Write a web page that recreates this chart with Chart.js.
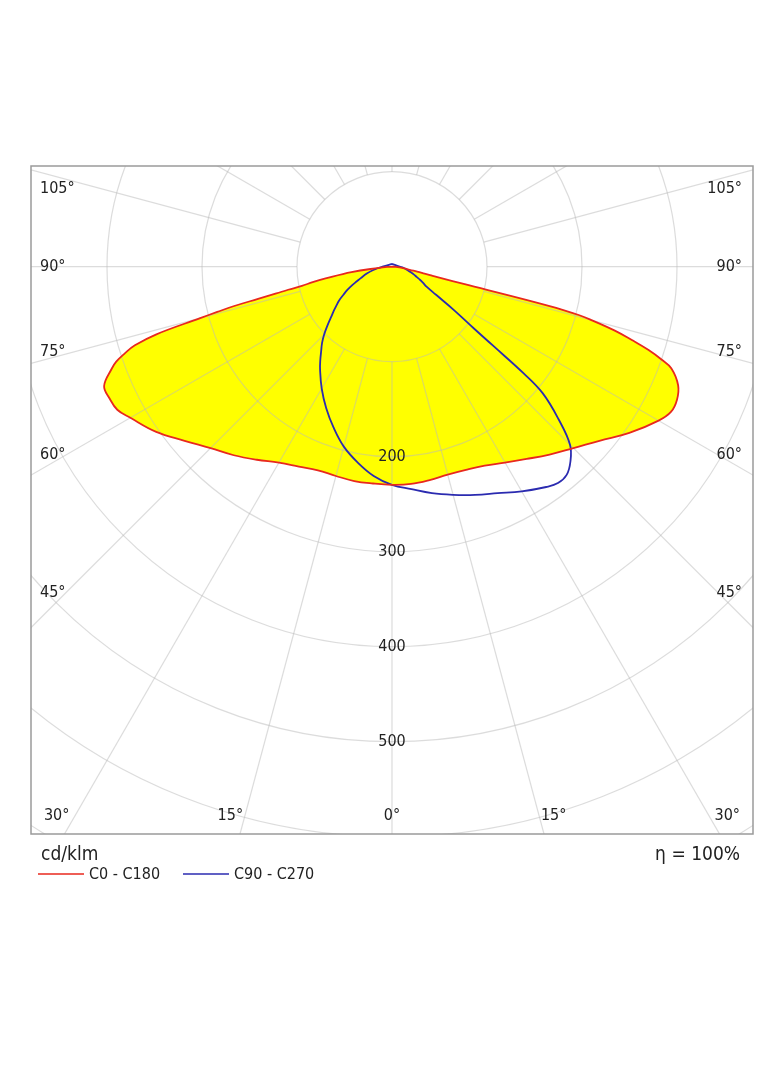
<!DOCTYPE html>
<html>
<head>
<meta charset="utf-8">
<script src="https://cdn.jsdelivr.net/npm/chart.js@4.4.0/dist/chart.umd.min.js"></script>
<style>
  html, body { margin: 0; padding: 0; background: #fff; }
  canvas { display: block; }
</style>
</head>
<body>
<canvas id="polar" width="784" height="1066"></canvas>
<script>
// gamma angles in degrees from nadir, intensities in cd/klm
const gammaRed = [0, 5, 10, 15, 20, 25, 30, 35, 40, 45, 50, 55, 60, 62.5, 65, 67.5, 70, 71, 72, 73, 74, 75, 75.5, 76, 76.5, 77, 77.5, 78, 79, 80, 82.5, 85, 87.5, 90, 180];
const c0 = [229.5, 229.5, 228, 226.5, 227.5, 231, 238, 247, 258, 270, 285, 305, 324, 331, 331, 326, 313, 300, 284, 264, 244, 218, 203, 171, 83, 48, 41, 35, 27, 19, 13, 8, 4, 0, 0];
const c180 = [229.5, 229, 229, 228, 228, 232, 238, 248, 259, 270, 285, 303, 318, 326, 328, 328, 314, 307, 296, 283, 258, 209, 190, 172, 145, 125, 112, 97, 85, 71, 43, 14, 5, 0, 0];

const gammaBlue = [0, 5, 10, 15, 20, 25, 30, 35, 37.5, 40, 42.5, 45, 47.5, 50, 51, 52, 53, 55, 57.5, 60, 62.5, 65, 67.5, 70, 75, 80, 85, 90, 180];
const c90 = [229.5, 235, 242, 248.5, 255.5, 263, 273, 283, 287, 286, 278, 265, 238, 207, 178, 135, 108, 80, 55, 42, 37, 32.5, 28, 25, 19, 15, 12, 8, 3];
const c270 = [229.5, 221, 209, 196, 180, 164, 148, 132, 124, 116, 109, 101, 92.5, 84.5, 81.5, 79, 76.5, 71.5, 66, 59, 53, 46.5, 40, 35, 27, 20, 14, 10, 3];

const seriesNames = ['C0 - C180', 'C90 - C270'];
const seriesColors = ['#e8281e', '#2b2bb0'];
const ringValues = [100, 200, 300, 400, 500, 600, 700];
const ringLabels = [200, 300, 400, 500];
const sideAngles = [105, 90, 75, 60, 45];
const bottomAngles = [0, 15, 30];
const unitLabel = 'cd/klm';
const efficiencyLabel = 'η = 100%';

const FONT = '"DejaVu Sans Condensed", "DejaVu Sans", sans-serif';

function toPoints(gammas, left, right) {
  const pts = [];
  const rad = Math.PI / 180;
  for (let i = gammas.length - 1; i >= 0; i--) {
    pts.push({ x: -left[i] * Math.sin(gammas[i] * rad), y: -left[i] * Math.cos(gammas[i] * rad) });
  }
  for (let i = 1; i < gammas.length; i++) {
    pts.push({ x: right[i] * Math.sin(gammas[i] * rad), y: -right[i] * Math.cos(gammas[i] * rad) });
  }
  return pts;
}

const polarGrid = {
  id: 'polarGrid',
  beforeDatasetsDraw(chart) {
    const { ctx, chartArea: a, scales: { x, y } } = chart;
    const cx = x.getPixelForValue(0), cy = y.getPixelForValue(0);
    const k = (x.getPixelForValue(100) - cx) / 100;
    ctx.save();
    ctx.beginPath();
    ctx.rect(a.left, a.top, a.width, a.height);
    ctx.clip();
    ctx.strokeStyle = 'rgba(185,185,185,0.5)';
    ctx.lineWidth = 1.2;
    ringValues.forEach(r => {
      ctx.beginPath();
      ctx.arc(cx, cy, r * k, 0, Math.PI * 2);
      ctx.stroke();
    });
    for (let g = 0; g < 360; g += 15) {
      const t = g * Math.PI / 180;
      const dx = Math.sin(t), dy = Math.cos(t);
      ctx.beginPath();
      ctx.moveTo(cx + dx * 100 * k, cy + dy * 100 * k);
      ctx.lineTo(cx + dx * 1000 * k, cy + dy * 1000 * k);
      ctx.stroke();
    }
    ctx.restore();
  },
  afterDraw(chart) {
    const { ctx, chartArea: a, scales: { x, y } } = chart;
    const cx = x.getPixelForValue(0), cy = y.getPixelForValue(0);
    ctx.save();
    ctx.fillStyle = '#222';
    ctx.textBaseline = 'middle';

    // ring values along the nadir axis
    ctx.font = '16px ' + FONT;
    ctx.textAlign = 'center';
    ringLabels.forEach(v => ctx.fillText(String(v), cx, y.getPixelForValue(-v)));

    // angle labels on the sides
    const sideDx = 340;
    sideAngles.forEach(g => {
      const t = (g + (g < 90 ? 1.5 : g > 90 ? -1.5 : 0)) * Math.PI / 180;
      const ly = cy + sideDx / Math.tan(t) + (g === 90 ? 0 : 3.5);
      ctx.textAlign = 'left';
      ctx.fillText(g + '°', a.left + 9, ly);
      ctx.textAlign = 'right';
      ctx.fillText(g + '°', a.right - 11, ly);
    });
    // angle labels along the bottom
    const ly = a.bottom - 18;
    ctx.textAlign = 'center';
    bottomAngles.forEach(g => {
      const t = (g === 0 ? 0 : g + 1.4) * Math.PI / 180;
      const off = (ly - cy) * Math.tan(t);
      ctx.fillText(g + '°', cx - off, ly);
      if (g !== 0) ctx.fillText(g + '°', cx + off, ly);
    });

    // frame
    ctx.strokeStyle = '#9a9a9a';
    ctx.lineWidth = 1.5;
    ctx.strokeRect(a.left, a.top, a.width, a.height);

    // unit, efficiency and legend
    ctx.font = '19px ' + FONT;
    ctx.textAlign = 'left';
    ctx.fillText(unitLabel, a.left + 10, a.bottom + 21);
    ctx.textAlign = 'right';
    ctx.fillText(efficiencyLabel, a.right - 13, a.bottom + 21);

    ctx.font = '16px ' + FONT;
    ctx.textAlign = 'left';
    const legendX = [a.left + 7, a.left + 152];
    seriesNames.forEach((name, i) => {
      ctx.strokeStyle = seriesColors[i];
      ctx.lineWidth = 1.5;
      ctx.beginPath();
      ctx.moveTo(legendX[i], a.bottom + 40);
      ctx.lineTo(legendX[i] + 46, a.bottom + 40);
      ctx.stroke();
      ctx.fillStyle = '#222';
      ctx.fillText(name, legendX[i] + 51, a.bottom + 41);
    });
    ctx.restore();
  }
};

const config = {
  type: 'scatter',
  data: {
    datasets: [
      {
        label: seriesNames[0],
        data: toPoints(gammaRed, c180, c0),
        showLine: true,
        borderColor: seriesColors[0],
        backgroundColor: '#ffff00',
        borderWidth: 1.8,
        pointRadius: 0,
        tension: 0.4,
        fill: 'shape'
      },
      {
        label: seriesNames[1],
        data: toPoints(gammaBlue, c270, c90),
        showLine: true,
        borderColor: seriesColors[1],
        borderWidth: 1.8,
        pointRadius: 0,
        tension: 0.4,
        fill: false
      }
    ]
  },
  options: {
    responsive: false,
    animation: false,
    events: [],
    layout: { padding: { left: 31, right: 31, top: 166, bottom: 232 } },
    scales: {
      x: { type: 'linear', min: -380, max: 380, display: false },
      y: { type: 'linear', min: -597, max: 106, display: false }
    },
    plugins: {
      legend: { display: false },
      tooltip: { enabled: false },
      filler: { drawTime: 'beforeDatasetsDraw' }
    }
  },
  plugins: [polarGrid]
};

const polarChart = new Chart(document.getElementById('polar'), config);
</script>
</body>
</html>
